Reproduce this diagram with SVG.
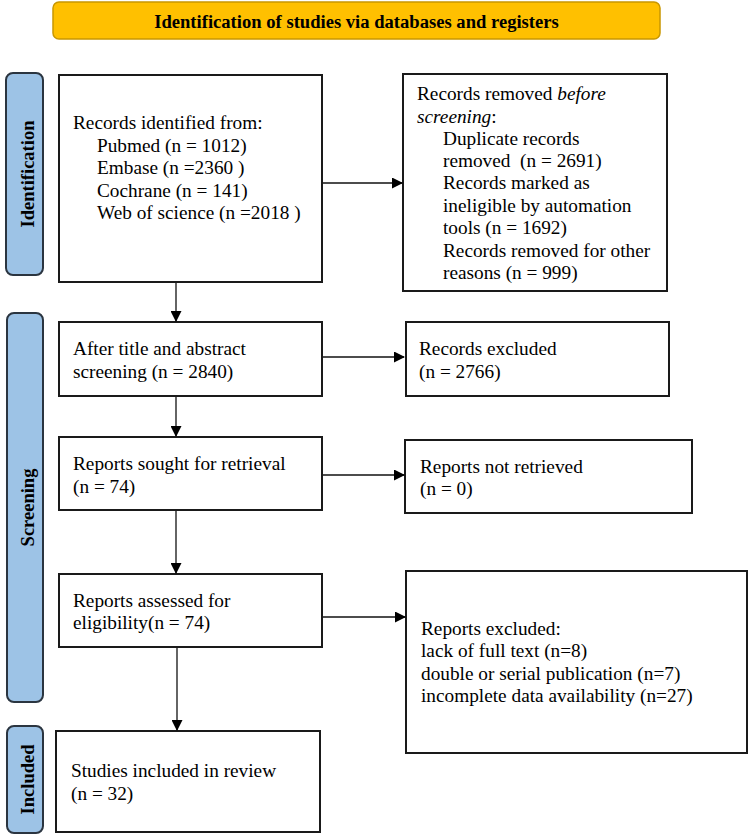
<svg xmlns="http://www.w3.org/2000/svg" width="750" height="838" viewBox="0 0 750 838">
<defs>
<marker id="arr" markerUnits="userSpaceOnUse" markerWidth="11" markerHeight="11" refX="10" refY="5.5" orient="auto">
<path d="M0,0 L11,5.5 L0,11 Z" fill="#000"/>
</marker>
</defs>
<style>
.box{fill:#fff;stroke:#1a1a1a;stroke-width:2}
.side{fill:#9DC3E6;stroke:#2b3540;stroke-width:2}
.t{font-family:"Liberation Serif","Times New Roman",serif;font-size:19.3px;fill:#000}
.sl{font-family:"Liberation Serif","Times New Roman",serif;font-size:18.5px;font-weight:bold;fill:#000;text-anchor:middle}
.con{stroke:#111;stroke-width:1.3;fill:none;marker-end:url(#arr)}
</style>
<rect width="750" height="838" fill="#fff"/>
<g id="title">
<rect x="53" y="2" width="607" height="37" rx="6" fill="#FFC000" stroke="#C99700" stroke-width="1.5"/>
<text x="356.5" y="28" font-family="Liberation Serif,'Times New Roman',serif" font-size="18.6" font-weight="bold" text-anchor="middle">Identification of studies via databases and registers</text>
</g>
<g id="label-identification">
<rect class="side" x="6" y="73" width="37" height="202" rx="7"/>
<text class="sl" transform="translate(33.5,174) rotate(-90)">Identification</text>
</g>
<g id="label-screening">
<rect class="side" x="7" y="313" width="36" height="389" rx="7"/>
<text class="sl" transform="translate(33.5,507.5) rotate(-90)">Screening</text>
</g>
<g id="label-included">
<rect class="side" x="7" y="726" width="36" height="107" rx="7"/>
<text class="sl" transform="translate(33.5,779.5) rotate(-90)">Included</text>
</g>
<g id="records-identified">
<rect class="box" x="59" y="75" width="263" height="207"/>
<text class="t" x="73" y="129">Records identified from:</text>
<text class="t" x="97" y="152">Pubmed (n = 1012)</text>
<text class="t" x="97" y="174">Embase (n =2360 )</text>
<text class="t" x="97" y="197">Cochrane (n = 141)</text>
<text class="t" x="97" y="219">Web of science (n =2018 )</text>
</g>
<g id="records-removed">
<rect class="box" x="403" y="74" width="264" height="217"/>
<text class="t" x="417" y="100">Records removed <tspan font-style="italic">before</tspan></text>
<text class="t" x="417" y="123"><tspan font-style="italic">screening</tspan>:</text>
<text class="t" x="443" y="145">Duplicate records</text>
<text class="t" x="443" y="167" xml:space="preserve">removed  (n = 2691)</text>
<text class="t" x="443" y="189">Records marked as</text>
<text class="t" x="443" y="212">ineligible by automation</text>
<text class="t" x="443" y="234">tools (n = 1692)</text>
<text class="t" x="443" y="257">Records removed for other</text>
<text class="t" x="443" y="279">reasons (n = 999)</text>
</g>
<g id="after-screening">
<rect class="box" x="59" y="322" width="263" height="74"/>
<text class="t" x="73" y="355">After title and abstract</text>
<text class="t" x="73" y="378">screening (n = 2840)</text>
</g>
<g id="records-excluded">
<rect class="box" x="406" y="322" width="263" height="74"/>
<text class="t" x="419" y="355">Records excluded</text>
<text class="t" x="419" y="378">(n = 2766)</text>
</g>
<g id="reports-sought">
<rect class="box" x="59" y="437" width="263" height="73"/>
<text class="t" x="73" y="470">Reports sought for retrieval</text>
<text class="t" x="73" y="493">(n = 74)</text>
</g>
<g id="reports-not-retrieved">
<rect class="box" x="405" y="440" width="287" height="73"/>
<text class="t" x="420" y="473">Reports not retrieved</text>
<text class="t" x="420" y="495">(n = 0)</text>
</g>
<g id="reports-assessed">
<rect class="box" x="59" y="574" width="263" height="73"/>
<text class="t" x="73" y="607">Reports assessed for</text>
<text class="t" x="73" y="629">eligibility(n = 74)</text>
</g>
<g id="reports-excluded">
<rect class="box" x="406" y="571" width="341" height="182"/>
<text class="t" x="421" y="635">Reports excluded:</text>
<text class="t" x="421" y="657">lack of full text (n=8)</text>
<text class="t" x="421" y="680">double or serial publication (n=7)</text>
<text class="t" x="421" y="702">incomplete data availability (n=27)</text>
</g>
<g id="studies-included">
<rect class="box" x="56" y="731" width="264" height="101"/>
<text class="t" x="71" y="777">Studies included in review</text>
<text class="t" x="71" y="800">(n = 32)</text>
</g>
<g id="connectors">
<line class="con" x1="323" y1="183" x2="402" y2="183"/>
<line class="con" x1="176" y1="283" x2="176" y2="321"/>
<line class="con" x1="323" y1="357" x2="404" y2="357"/>
<line class="con" x1="176" y1="397" x2="176" y2="436"/>
<line class="con" x1="323" y1="475" x2="404" y2="475"/>
<line class="con" x1="176" y1="511" x2="176" y2="573"/>
<line class="con" x1="323" y1="617" x2="405" y2="617"/>
<line class="con" x1="177" y1="648" x2="177" y2="730"/>
</g>
</svg>
